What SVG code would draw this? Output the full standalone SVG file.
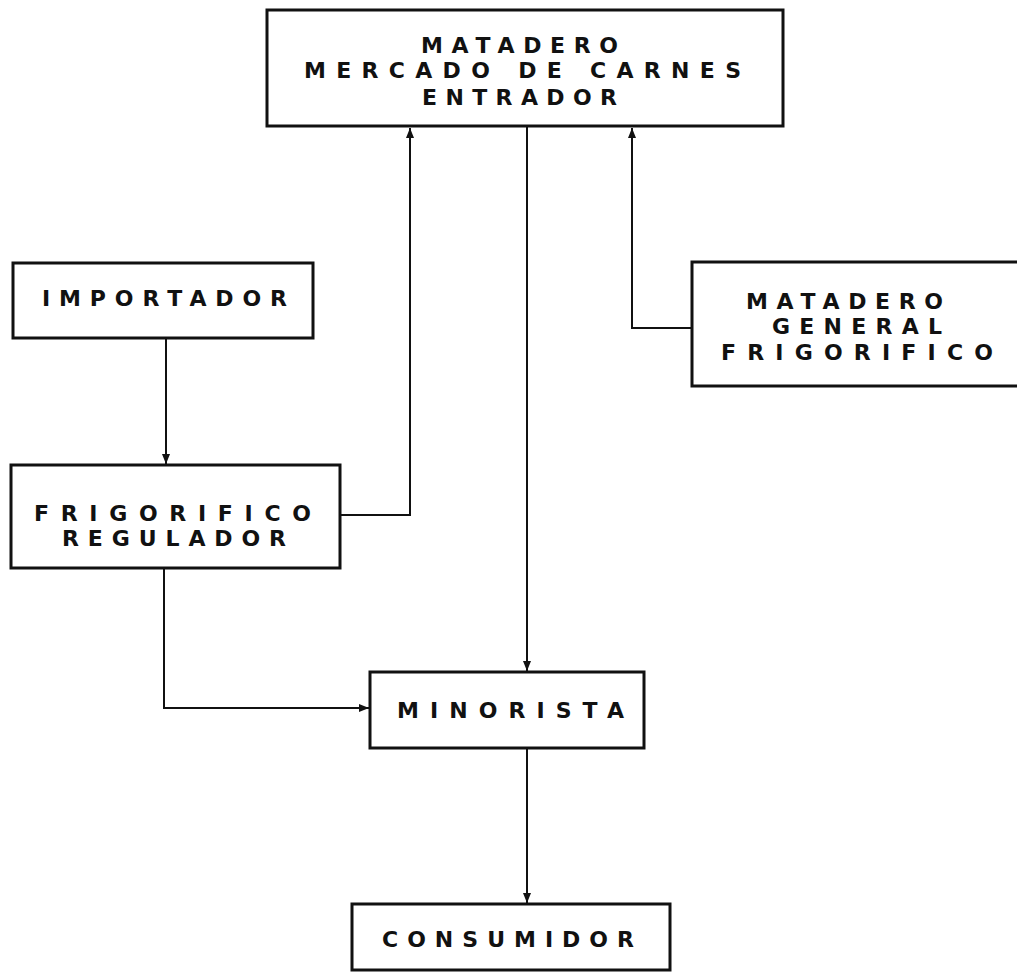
<svg xmlns="http://www.w3.org/2000/svg" width="1017" height="974" viewBox="0 0 1017 974">
<defs>
<marker id="arr" markerUnits="userSpaceOnUse" markerWidth="10" markerHeight="10" viewBox="0 0 10 10" refX="10" refY="5" orient="auto">
<path d="M0,1 L10,5 L0,9 Z" fill="#111"/>
</marker>
<style>
.box{fill:#fff;stroke:#111;stroke-width:3}
.lbl{font-family:"DejaVu Sans","Liberation Sans",sans-serif;font-weight:bold;font-size:22px;fill:#111}
.con{fill:none;stroke:#111;stroke-width:2;marker-end:url(#arr)}
</style>
</defs>
<rect width="1017" height="974" fill="#fff"/>
<g id="connectors">
<path class="con" d="M166,338 L166,464"/>
<path class="con" d="M340,515 L410,515 L410,128"/>
<path class="con" d="M692,328 L632,328 L632,128"/>
<path class="con" d="M527,127 L527,671"/>
<path class="con" d="M164,568 L164,708 L369,708"/>
<path class="con" d="M527,748 L527,903"/>
</g>
<g id="matadero-mercado">
<rect class="box" x="267" y="10" width="516" height="116"/>
<text class="lbl" x="421" y="53" textLength="197" lengthAdjust="spacing">MATADERO</text>
<text class="lbl" x="304" y="78" textLength="437" lengthAdjust="spacing">MERCADO DE CARNES</text>
<text class="lbl" x="422" y="105" textLength="195" lengthAdjust="spacing">ENTRADOR</text>
</g>
<g id="importador">
<rect class="box" x="13" y="263" width="300" height="75"/>
<text class="lbl" x="42" y="306" textLength="245" lengthAdjust="spacing">IMPORTADOR</text>
</g>
<g id="frigorifico-regulador">
<rect class="box" x="11" y="465" width="329" height="103"/>
<text class="lbl" x="34" y="521" textLength="277" lengthAdjust="spacing">FRIGORIFICO</text>
<text class="lbl" x="62" y="546" textLength="224" lengthAdjust="spacing">REGULADOR</text>
</g>
<g id="matadero-general">
<rect class="box" x="692" y="262" width="340" height="124"/>
<text class="lbl" x="746" y="309" textLength="197" lengthAdjust="spacing">MATADERO</text>
<text class="lbl" x="772" y="334" textLength="170" lengthAdjust="spacing">GENERAL</text>
<text class="lbl" x="721" y="360" textLength="272" lengthAdjust="spacing">FRIGORIFICO</text>
</g>
<g id="minorista">
<rect class="box" x="370" y="672" width="274" height="76"/>
<text class="lbl" x="397" y="718" textLength="227" lengthAdjust="spacing">MINORISTA</text>
</g>
<g id="consumidor">
<rect class="box" x="352" y="904" width="318" height="66"/>
<text class="lbl" x="382" y="947" textLength="252" lengthAdjust="spacing">CONSUMIDOR</text>
</g>
</svg>
